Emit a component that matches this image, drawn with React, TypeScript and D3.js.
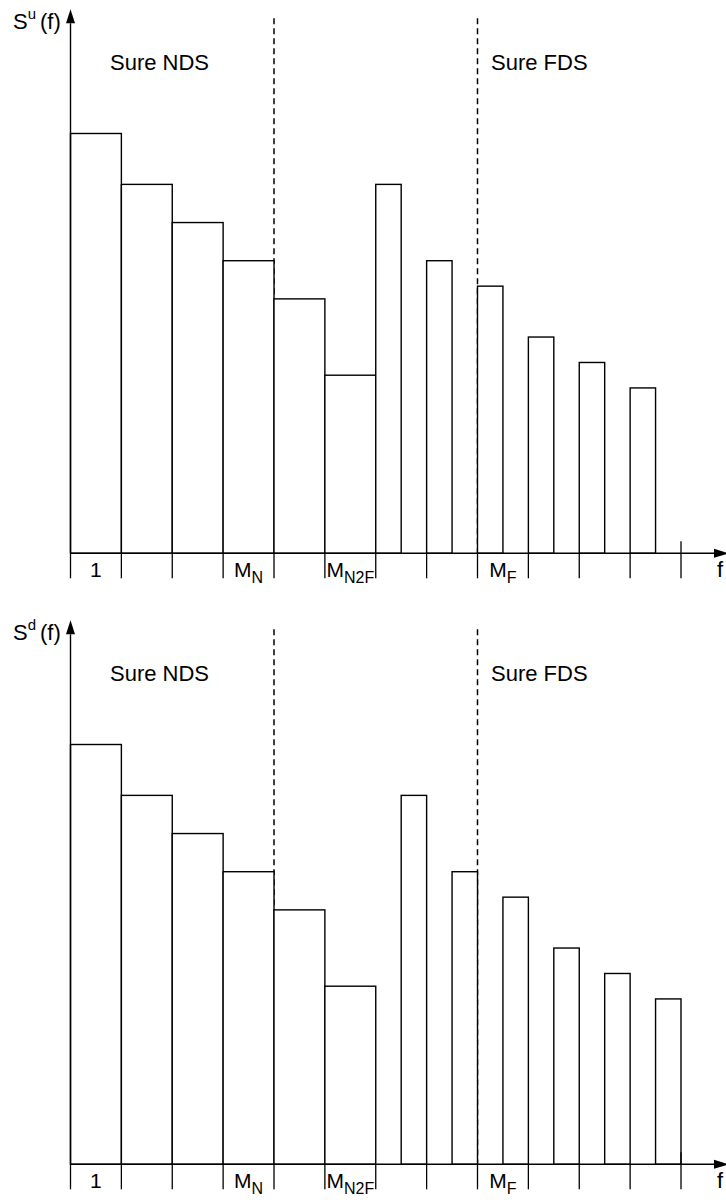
import React from "react";
import * as d3 from "d3";

// ---- data ----
const wideValues = [16.5, 14.5, 13, 11.5, 10, 7]; // slots 0..5, full width
const narrowValues = [14.5, 11.5, 10.5, 8.5, 7.5, 6.5]; // slots 6..11, half width
const tickCount = 12;
const tickLabels = [
  { slot: 0, main: "1", sub: "" },
  { slot: 3, main: "M", sub: "N" },
  { slot: 5, main: "M", sub: "N2F" },
  { slot: 8, main: "M", sub: "F" },
];
const dashedAt = [4, 8];
const panels = [
  { sup: "u", axisY: 553.3, narrowAlign: 0 },
  { sup: "d", axisY: 1164.3, narrowAlign: 0.5 },
];
const regionLabels = [
  { text: "Sure NDS", x: 110 },
  { text: "Sure FDS", x: 491 },
];

const FONT = "'Liberation Sans', Arial, Helvetica, sans-serif";
const INK = "#000";

function Panel({ sup, axisY, narrowAlign }: { sup: string; axisY: number; narrowAlign: number }) {
  const x = d3.scaleLinear().domain([0, tickCount]).range([70.5, 681]);
  const y = d3.scaleLinear().domain([0, 16.5]).range([axisY, axisY - 419.8]);
  const top = axisY - 535;
  const bars = [
    ...wideValues.map((v, i) => ({ x0: i, w: 1, v })),
    ...narrowValues.map((v, i) => ({ x0: 6 + i + narrowAlign, w: 0.5, v })),
  ];
  return (
    <g>
      {/* dashed separators */}
      {dashedAt.map((d) => (
        <line key={"d" + d} x1={x(d)} x2={x(d)} y1={top} y2={axisY} stroke={INK} strokeWidth={1.5} strokeDasharray="6,4" />
      ))}
      {/* bars */}
      {bars.map((b, i) => (
        <rect
          key={"b" + i}
          x={x(b.x0)}
          y={y(b.v)}
          width={x(b.x0 + b.w) - x(b.x0)}
          height={axisY - y(b.v)}
          fill="#fff"
          stroke={INK}
          strokeWidth={1.4}
        />
      ))}
      {/* ticks */}
      {d3.range(0, tickCount + 1).map((t) => (
        <line key={"t" + t} x1={x(t)} x2={x(t)} y1={t === tickCount ? axisY - 12 : axisY} y2={axisY + 25} stroke={INK} strokeWidth={1.3} />
      ))}
      {/* axes */}
      <line x1={x(0)} x2={714} y1={axisY} y2={axisY} stroke={INK} strokeWidth={1.4} />
      <path d={`M${729},${axisY} L${714},${axisY - 4.5} L${714},${axisY + 4.5} Z`} fill={INK} />
      <line x1={x(0)} x2={x(0)} y1={axisY} y2={axisY - 530} stroke={INK} strokeWidth={1.4} />
      <path d={`M${x(0)},${axisY - 544} L${x(0) - 4.5},${axisY - 530} L${x(0) + 4.5},${axisY - 530} Z`} fill={INK} />
      {/* y label */}
      <text x={13} y={axisY - 524} fontFamily={FONT} fontSize={22} fill={INK}>
        S
        <tspan fontSize={15} dy={-10}>{sup}</tspan>
        <tspan dy={10} dx={4}>(f)</tspan>
      </text>
      {/* region labels */}
      {regionLabels.map((r) => (
        <text key={r.text} x={r.x} y={axisY - 483} fontFamily={FONT} fontSize={22} fill={INK}>
          {r.text}
        </text>
      ))}
      {/* tick labels */}
      {tickLabels.map((l) => (
        <text key={"l" + l.slot} x={(x(l.slot) + x(l.slot + 1)) / 2} y={axisY + 23.5} textAnchor="middle" fontFamily={FONT} fontSize={21} fill={INK}>
          {l.main}
          {l.sub ? (
            <tspan fontSize={16} dy={6}>
              {l.sub}
            </tspan>
          ) : null}
        </text>
      ))}
      <text x={717} y={axisY + 24} fontFamily={FONT} fontSize={22} fill={INK}>
        f
      </text>
    </g>
  );
}

export default function App() {
  return (
    <svg width={726} height={1200} style={{ position: "absolute", left: 0, top: 0, background: "#fff" }}>
      <rect width={726} height={1200} fill="#fff" />
      {panels.map((p) => (
        <Panel key={p.sup} {...p} />
      ))}
    </svg>
  );
}
